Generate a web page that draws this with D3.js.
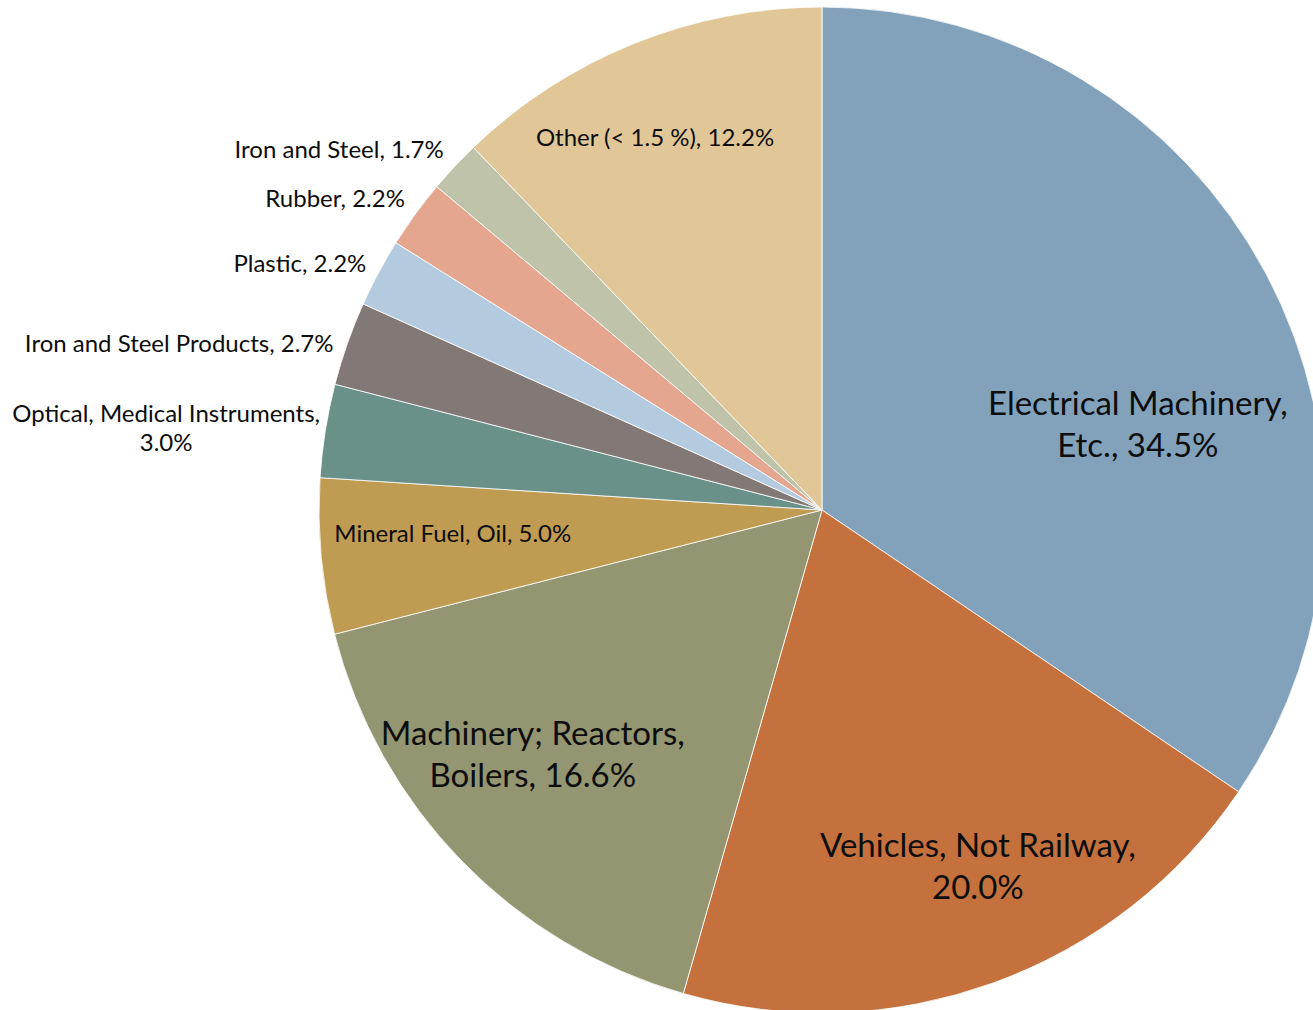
<!DOCTYPE html>
<html>
<head>
<meta charset="utf-8">
<script src="https://cdn.jsdelivr.net/npm/d3@7"></script>
<style>
  html, body { margin: 0; padding: 0; background: #fff; overflow: hidden; }
  text { font-family: Lato, "Noto Sans", sans-serif; fill: #0d0d0d; }
</style>
</head>
<body>
<svg></svg>
<script>
let WIDTH = 1313;
let HEIGHT = 1010;

// chart data, clockwise from 12 o'clock
let categories = [
    'Electrical Machinery, Etc.',
    'Vehicles, Not Railway',
    'Machinery; Reactors, Boilers',
    'Mineral Fuel, Oil',
    'Optical, Medical Instruments',
    'Iron and Steel Products',
    'Plastic',
    'Rubber',
    'Iron and Steel',
    'Other (< 1.5 %)'
];
let shares = [34.5, 20.0, 16.6, 5.0, 3.0, 2.7, 2.2, 2.2, 1.7, 12.2];
let colors = ['#82a2bc', '#c5713e', '#939670', '#bf9c52', '#6a9189',
              '#827977', '#b4cbdf', '#e4a68e', '#bec3aa', '#e1c798'];

// label layout: first baseline offset from pie centre (in radii), words before line break, size
let labelOffsets = [[0.628, -0.189], [0.310, 0.690], [-0.575, 0.468], [-0.734, 0.064],
                    [-1.304, -0.175], [-1.278, -0.314], [-1.038, -0.473], [-0.968, -0.602],
                    [-0.960, -0.700], [-0.332, -0.724]];
let lineBreaks = [2, 3, 2, 0, 3, 0, 0, 0, 0, 0];
let bigLabel = [true, true, true, false, false, false, false, false, false, false];

let cx = 822, cy = 510, radius = 503;

let svg = d3.select('svg')
    .attr('width', WIDTH)
    .attr('height', HEIGHT);

let pie = d3.pie().sort(null).value((d) => d);
let arc = d3.arc().innerRadius(0).outerRadius(radius);
let arcs = pie(shares);

let g = svg.append('g').attr('transform', `translate(${cx},${cy})`);

g.selectAll('path')
    .data(arcs)
    .enter()
    .append('path')
        .attr('d', arc)
        .attr('fill', (d, i) => colors[i])
        .attr('stroke', '#fff')
        .attr('stroke-width', 0.8);

// split "name, value%" into lines
function labelLines(i){
    let words = `${categories[i]}, ${shares[i].toFixed(1)}%`.split(' ');
    let n = lineBreaks[i];
    if(!n) return [words.join(' ')];
    return [words.slice(0, n).join(' '), words.slice(n).join(' ')];
}

let labels = g.append('g')
    .classed('labels', true)
    .selectAll('text')
    .data(arcs)
    .enter()
    .append('text')
        .attr('text-anchor', 'middle')
        .attr('font-size', (d, i) => bigLabel[i] ? 33 : 24)
        .attr('x', (d, i) => labelOffsets[i][0] * radius)
        .attr('y', (d, i) => labelOffsets[i][1] * radius);

labels.each(function(d, i){
    let lh = bigLabel[i] ? 42 : 29;
    d3.select(this).selectAll('tspan')
        .data(labelLines(i))
        .enter()
        .append('tspan')
            .attr('x', labelOffsets[i][0] * radius)
            .attr('dy', (t, j) => j === 0 ? 0 : lh)
            .text((t) => t);
});
</script>
</body>
</html>
